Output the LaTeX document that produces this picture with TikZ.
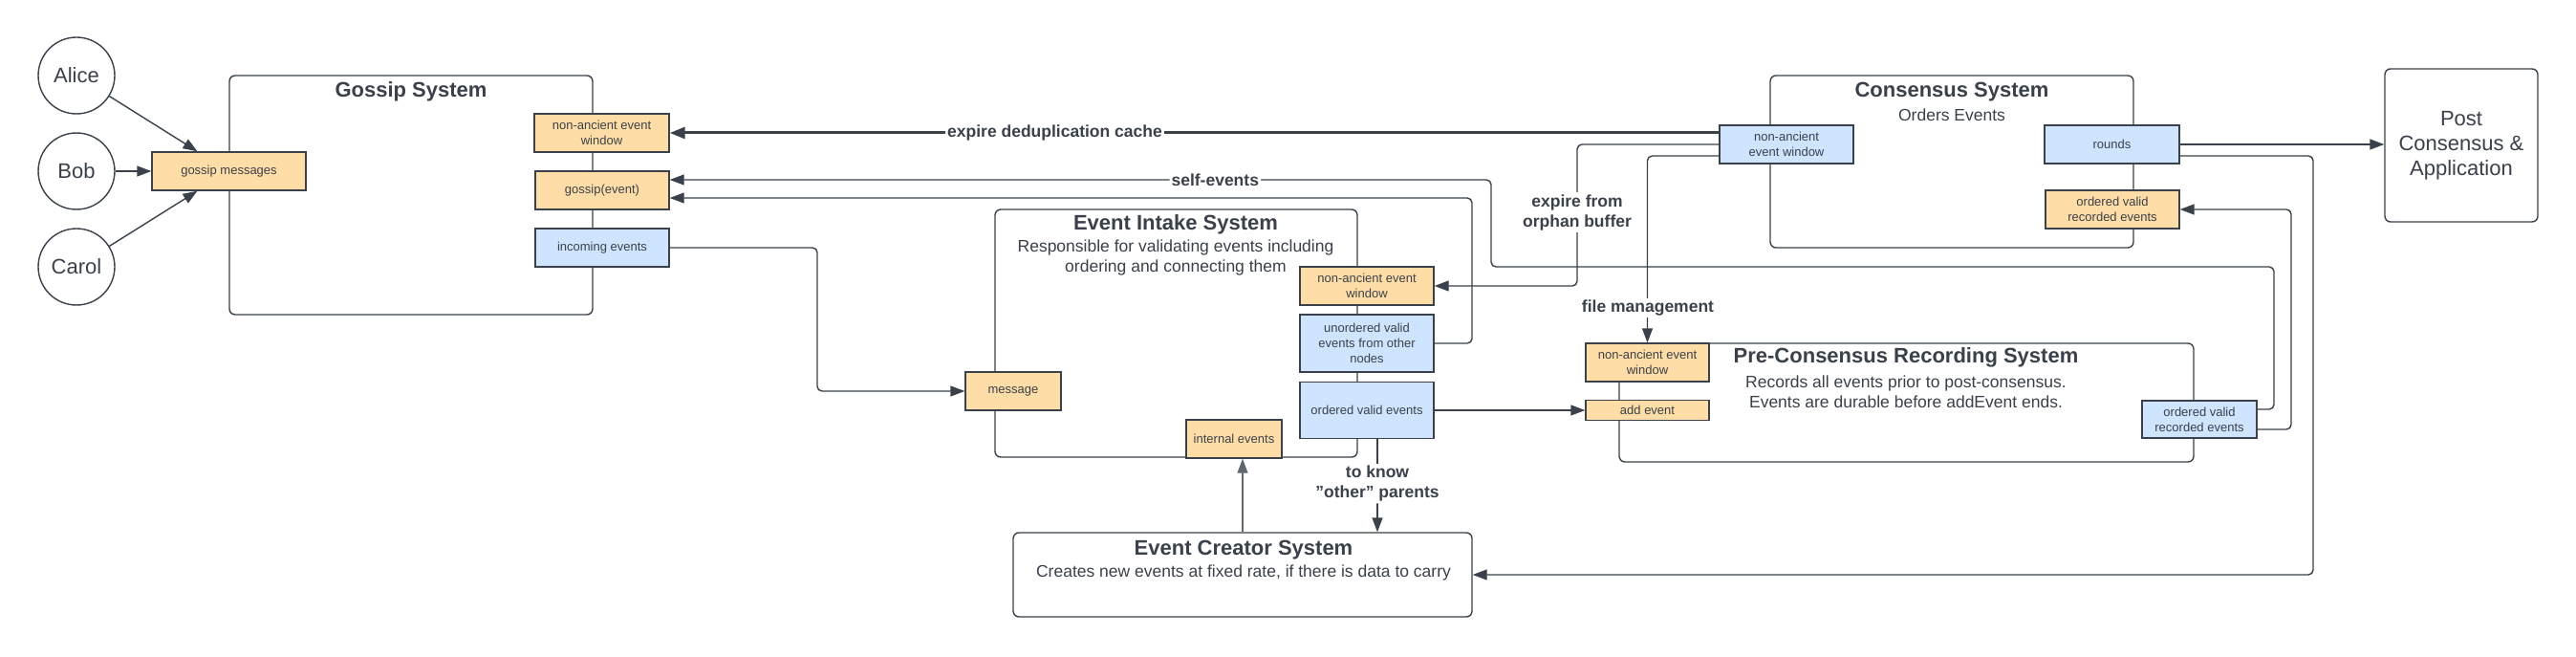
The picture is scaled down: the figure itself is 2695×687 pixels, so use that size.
\documentclass[tikz,border=0pt]{standalone}
\usepackage{fontspec}
\setmainfont{Liberation Sans}
\usetikzlibrary{arrows.meta,calc}
\definecolor{lc}{HTML}{3A414A}
\definecolor{orng}{HTML}{FFDDA6}
\definecolor{blu}{HTML}{CFE4FF}
\begin{document}
\begin{tikzpicture}[x=1pt,y=-1pt,
  sbox/.style={draw=lc, line width=1.4pt, text=lc, align=center, inner sep=0pt, font=\fontsize{13}{16}\selectfont},
  obox/.style={sbox, fill=orng},
  bbox/.style={sbox, fill=blu},
  cont/.style={draw=lc, line width=1.4pt, rounded corners=6pt, inner sep=0pt},
  ttl/.style={text=lc, font=\bfseries\fontsize{22}{26}\selectfont, inner sep=0pt},
  subt/.style={text=lc, font=\fontsize{17.5}{21}\selectfont, align=center, inner sep=0pt},
  lbl/.style={text=lc, font=\bfseries\fontsize{17.5}{21}\selectfont, align=center, fill=white, inner sep=2pt},
  conn/.style={draw=lc, line width=1.4pt, rounded corners=5pt, -{Triangle[length=15pt,width=11pt]}},
  person/.style={circle, draw=lc, line width=1.4pt, minimum size=80pt, inner sep=0pt, text=lc, font=\fontsize{22}{26}\selectfont}]
\fill[white] (0,0) rectangle (2695,687);
\useasboundingbox (0,0) rectangle (2695,687);

% containers
\node[cont, minimum width=380pt, minimum height=250pt] (gossip) at (430,204) {};
\node[ttl] (gossipt) at (430,96) {Gossip System};
\node[cont, minimum width=380pt, minimum height=180pt] (cons) at (2042,169) {};
\node[ttl] (const) at (2042,96) {Consensus System};
\node[subt] (conss) at (2042,120) {Orders Events};
\node[cont, minimum width=160pt, minimum height=160pt, text=lc, align=center, font=\fontsize{22}{26}\selectfont] (post) at (2575,152) {Post\\Consensus \&\\Application};
\node[cont, minimum width=601pt, minimum height=124pt] (pre) at (1994.5,421) {};
\node[ttl] (pret) at (1994,374) {Pre-Consensus Recording System};
\node[subt] (pres) at (1994,409.5) {Records all events prior to post-consensus.\\Events are durable before addEvent ends.};
\node[cont, minimum width=379pt, minimum height=259pt] (intake) at (1230.5,348.5) {};
\node[ttl] (intaket) at (1230,235) {Event Intake System};
\node[subt] (intakes) at (1230,269.5) {Responsible for validating events including\\ordering and connecting them};
\node[cont, minimum width=480pt, minimum height=88pt] (creator) at (1300,601) {};
\node[ttl] (creatort) at (1301,575) {Event Creator System};
\node[subt] (creators) at (1301,599) {Creates new events at fixed rate, if there is data to carry};

% people
\node[person] (alice) at (80,79) {Alice};
\node[person] (bob) at (80,179) {Bob};
\node[person] (carol) at (80,279) {Carol};

% boxes
\node[obox, minimum width=161pt, minimum height=40pt] (gmsg) at (239.5,179) {gossip messages};
\node[obox, minimum width=141pt, minimum height=40pt] (gnae) at (629.5,139) {non-ancient event\\window};
\node[obox, minimum width=140pt, minimum height=40pt] (ggev) at (630,199) {gossip(event)};
\node[bbox, minimum width=140pt, minimum height=40pt] (ginc) at (630,259) {incoming events};

\node[bbox, minimum width=140pt, minimum height=40pt] (cnae) at (1869,151) {non-ancient\\event window};
\node[bbox, minimum width=141pt, minimum height=40pt] (crounds) at (2209.5,151) {rounds};
\node[obox, minimum width=140pt, minimum height=40pt] (cordrec) at (2210,219) {ordered valid\\recorded events};

\node[obox, minimum width=129pt, minimum height=40pt] (pnae) at (1723.5,379) {non-ancient event\\window};
\node[obox, minimum width=129pt, minimum height=21pt] (padd) at (1723.5,429) {add event};
\node[bbox, minimum width=120pt, minimum height=39pt] (pordrec) at (2301,438.5) {ordered valid\\recorded events};

\node[obox, minimum width=140pt, minimum height=40pt] (inae) at (1430,299) {non-ancient event\\window};
\node[bbox, minimum width=140pt, minimum height=60pt] (iunord) at (1430,359) {unordered valid\\events from other\\nodes};
\node[bbox, minimum width=140pt, minimum height=59pt] (iord) at (1430,429) {ordered valid events};
\node[obox, minimum width=100pt, minimum height=40pt] (imsg) at (1060,409) {message};
\node[obox, minimum width=100pt, minimum height=40pt] (iint) at (1291,459) {internal events};

% bend coordinates
\coordinate (b1) at (855,409);
\coordinate (b2) at (1650,299);
\coordinate (b3) at (2379,279);
\coordinate (b4) at (1560,188);
\coordinate (b5) at (1540,207);
\coordinate (b6) at (2420,601);
\coordinate (b7) at (2397,219);

% connectors
\draw[conn] (alice) -- ([xshift=-33pt]gmsg.north);
\draw[conn] (bob.east) -- (gmsg.west);
\draw[conn] (carol) -- ([xshift=-33pt]gmsg.south);

\draw[conn, line width=3pt, -{Triangle[length=16pt,width=12pt]}] ([yshift=12pt]cnae.west) -- node[lbl, pos=0.633] {expire deduplication cache} (gnae.east);
\draw[conn] (cnae.west) -| (b2) -- (inae.east);
\node[lbl] (orphl) at (1650,222) {expire from\\orphan buffer};
\draw[conn] ([yshift=-12pt]cnae.west) -| (pnae.north);
\node[lbl] (filel) at (1724,322) {file management};

\draw[conn] ([yshift=10.5pt]pordrec.east) -| (b3) -| (b4) -- node[lbl, pos=0.336] {self-events} ([yshift=11pt]ggev.east);
\draw[conn] (iunord.east) -| (b5) -- ([yshift=-8pt]ggev.east);
\draw[conn] (ginc.east) -| (b1) -- (imsg.west);
\draw[conn] (iord.east) -- (padd.west);
\draw[conn] ([xshift=11pt]iord.south) -- node[lbl, pos=0.48] {to know\\\symbol{34}other\symbol{34} parents} ([xshift=11pt]iord.south |- creator.north);
\draw[conn, draw=lc!80, line width=1.1pt] (creator.north) -- (creator.north |- iint.south);
\draw[conn] (crounds.east) -- (crounds.east -| post.west);
\draw[conn] ([yshift=-12pt]crounds.east) -| (b6) -- (creator.east);
\draw[conn] ([yshift=-10.5pt]pordrec.east) -| (b7) -- (cordrec.east);
\end{tikzpicture}
\end{document}
